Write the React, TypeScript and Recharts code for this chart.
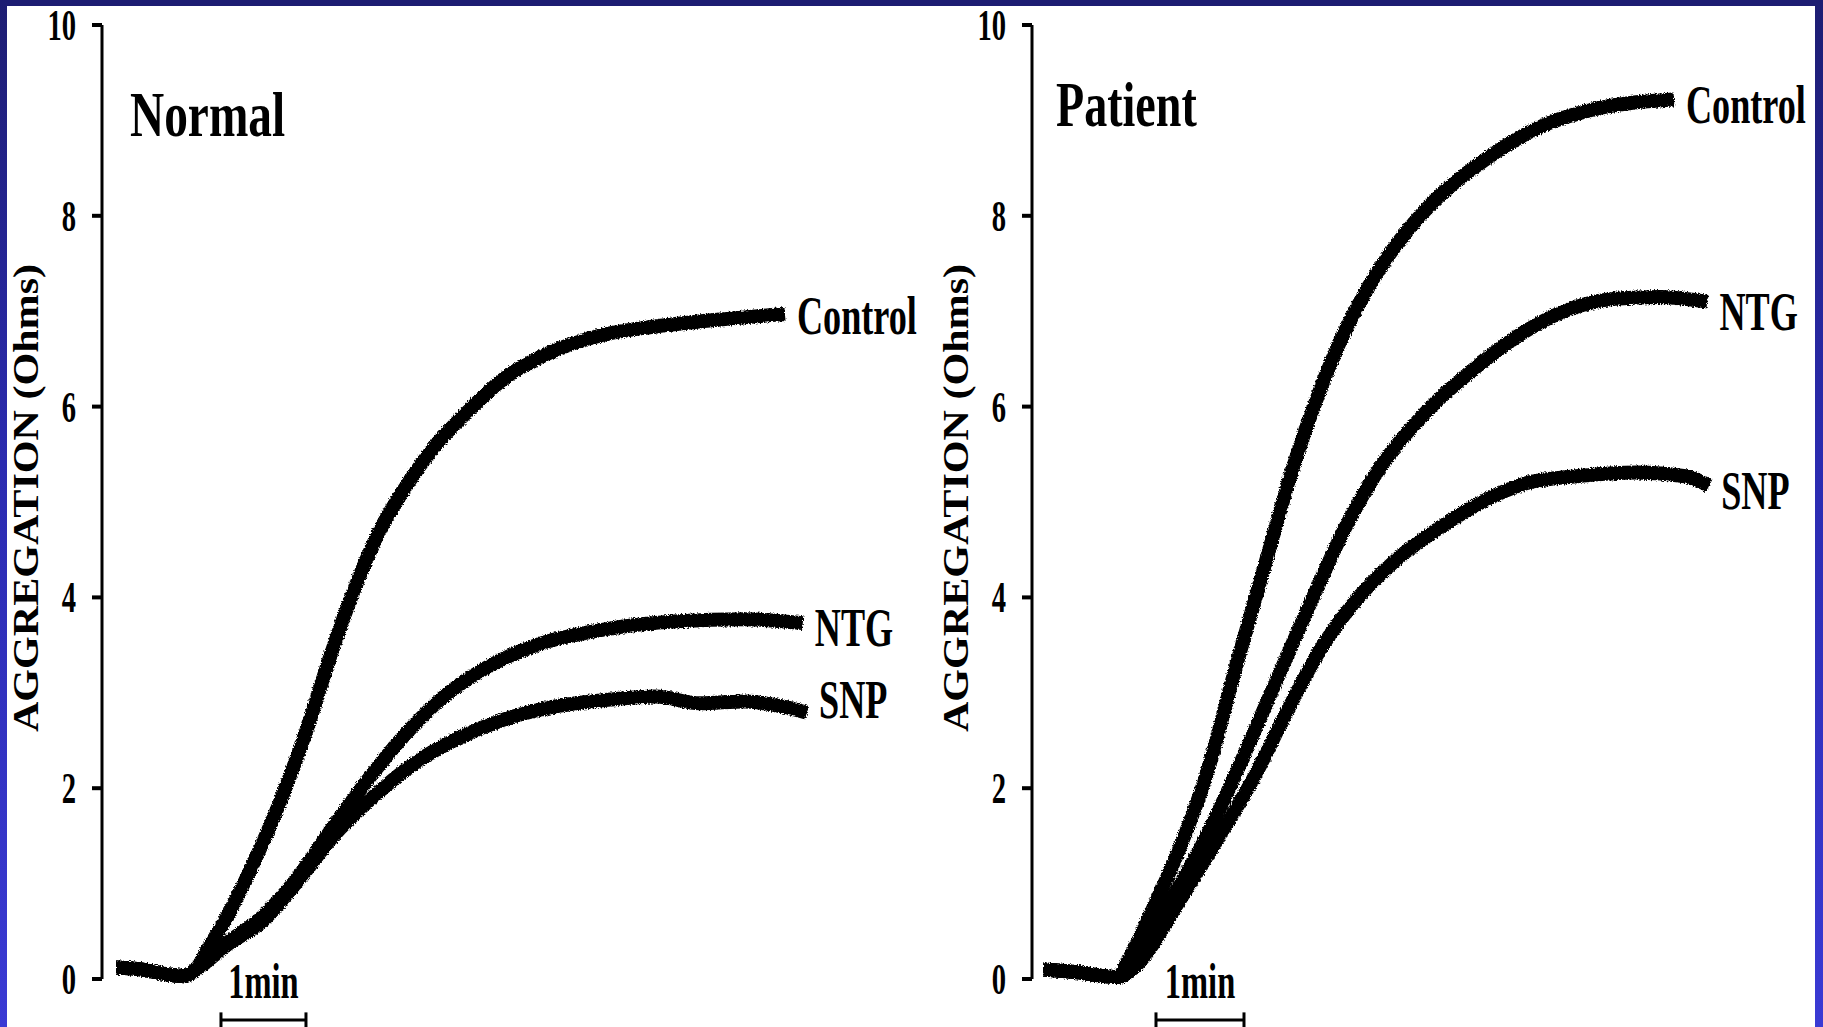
import React from "react";
import { LineChart, Line, XAxis, YAxis, ReferenceLine } from "recharts";

type Pt = [number, number];

// ---- text content ----
const Y_TICKS = [0, 2, 4, 6, 8, 10];
const Y_LABEL = "AGGREGATION (Ohms)";
const SERIES_NAMES = ["Control", "NTG", "SNP"];
const PANEL_TITLES = ["Normal", "Patient"];
const SCALE_LABEL = "1min";

// ---- data: [time (min from trace start), aggregation (Ohms)] ----
const NORMAL_CONTROL: Pt[] = [
  [0, 0.12], [0.3, 0.1], [0.6, 0.05], [0.8, 0.03], [0.94, 0.1], [1.09, 0.33],
  [1.31, 0.66], [1.62, 1.22], [1.94, 1.88], [2.25, 2.63], [2.52, 3.38], [2.78, 4.03],
  [3.09, 4.68], [3.41, 5.16], [3.72, 5.55], [4.14, 5.95], [4.56, 6.29], [5.09, 6.56],
  [5.72, 6.75], [6.35, 6.84], [7.08, 6.91], [7.87, 6.97],
];
const NORMAL_NTG: Pt[] = [
  [0, 0.12], [0.3, 0.1], [0.6, 0.05], [0.8, 0.03], [0.94, 0.1], [1.31, 0.38],
  [1.73, 0.66], [2.15, 1.08], [2.56, 1.6], [2.99, 2.12], [3.41, 2.57], [3.83, 2.94],
  [4.35, 3.26], [4.98, 3.51], [5.72, 3.66], [6.61, 3.75], [7.4, 3.77], [8.08, 3.73],
];
const NORMAL_SNP: Pt[] = [
  [0, 0.12], [0.3, 0.1], [0.6, 0.05], [0.8, 0.03], [0.94, 0.1], [1.31, 0.36],
  [1.73, 0.61], [2.15, 1.04], [2.56, 1.5], [2.99, 1.88], [3.51, 2.26], [4.04, 2.53],
  [4.56, 2.72], [5.19, 2.86], [5.82, 2.93], [6.35, 2.96], [6.87, 2.89], [7.4, 2.91],
  [7.82, 2.86], [8.13, 2.79],
];
const PATIENT_CONTROL: Pt[] = [
  [0, 0.1], [0.4, 0.07], [0.7, 0.03], [0.85, 0.02], [0.97, 0.2], [1.27, 0.78],
  [1.53, 1.32], [1.86, 2.15], [2.2, 3.3], [2.54, 4.4], [2.84, 5.36], [3.15, 6.18],
  [3.41, 6.75], [3.7, 7.26], [3.94, 7.6], [4.45, 8.16], [5.01, 8.58], [5.62, 8.92],
  [6.23, 9.11], [6.74, 9.19], [7.17, 9.22],
];
const PATIENT_NTG: Pt[] = [
  [0, 0.1], [0.4, 0.07], [0.7, 0.03], [0.85, 0.02], [1.01, 0.18], [1.4, 0.75],
  [1.8, 1.39], [2.16, 2.09], [2.54, 2.89], [3.0, 3.86], [3.45, 4.76], [3.83, 5.36],
  [4.36, 5.95], [4.97, 6.45], [5.5, 6.8], [5.98, 7.02], [6.5, 7.13], [7.0, 7.15],
  [7.55, 7.1],
];
const PATIENT_SNP: Pt[] = [
  [0, 0.1], [0.4, 0.07], [0.7, 0.03], [0.85, 0.02], [1.1, 0.18], [1.53, 0.79],
  [1.97, 1.45], [2.39, 2.1], [2.77, 2.8], [3.15, 3.45], [3.53, 3.94], [4.02, 4.4],
  [4.59, 4.78], [5.16, 5.08], [5.5, 5.2], [6.06, 5.27], [6.75, 5.31], [7.3, 5.27],
  [7.57, 5.17],
];

// 1-minute scale bar (start, end in minutes) and its level (Ohms)
const NORMAL_SCALE_BAR = [1.235, 2.235];
const PATIENT_SCALE_BAR = [1.284, 2.284];
const SCALE_BAR_LEVEL = -0.43;

const FONT = '"Liberation Serif", "Times New Roman", serif';

const toRows = (pts: Pt[]) => pts.map(([t, v]) => ({ t, v }));

function YTick(props: any) {
  const { x, y, payload } = props;
  return (
    <text
      transform={`translate(${x},${y + 15}) scale(0.65,1)`}
      textAnchor="end"
      fontFamily={FONT}
      fontWeight="bold"
      fontSize={44}
      fill="#000"
    >
      {payload.value}
    </text>
  );
}

function YLabel(props: any) {
  const vb = props.viewBox || { x: 0, y: 25, width: 102, height: 954 };
  const cx = vb.x + 26;
  const cy = vb.y + vb.height / 2 - 4;
  return (
    <text
      transform={`translate(${cx},${cy}) rotate(-90) scale(1.17,1)`}
      y={12}
      textAnchor="middle"
      fontFamily={FONT}
      fontWeight="bold"
      fontSize={36}
      fill="#000"
    >
      {Y_LABEL}
    </text>
  );
}

const endLabel = (name: string, lastIndex: number, dy: number) => (p: any) => {
  if (p.index !== lastIndex) return <g />;
  return (
    <text
      transform={`translate(${p.x + 12},${p.y + dy + 18}) scale(0.67,1)`}
      fontFamily={FONT}
      fontWeight="bold"
      fontSize={54}
      fill="#000"
    >
      {name}
    </text>
  );
};

function ScaleLabel(p: any) {
  const vb = p.viewBox || { x: 0, y: 0, width: 0, height: 0 };
  return (
    <text
      transform={`translate(${vb.x + vb.width / 2},${vb.y - 22}) scale(0.65,1)`}
      textAnchor="middle"
      fontFamily={FONT}
      fontWeight="bold"
      fontSize={50}
      fill="#000"
    >
      {SCALE_LABEL}
    </text>
  );
}

interface PanelProps {
  series: Pt[][];
  labelDy: number[];
  bar: number[];
  width: number;
  padLeft: number;
  xMax: number;
  marginRight: number;
}

function Panel({ series, labelDy, bar, width, padLeft, xMax, marginRight }: PanelProps) {
  return (
    <LineChart
      width={width}
      height={1027}
      margin={{ top: 25, right: marginRight, bottom: 48, left: 0 }}
    >
      <XAxis
        type="number"
        dataKey="t"
        domain={[0, xMax]}
        padding={{ left: padLeft, right: 0 }}
        allowDataOverflow
        hide
      />
      <YAxis
        type="number"
        domain={[0, 10]}
        ticks={Y_TICKS}
        interval={0}
        width={102}
        axisLine={{ stroke: "#000", strokeWidth: 3 }}
        tickLine={{ stroke: "#000", strokeWidth: 4 }}
        tickSize={10}
        tickMargin={16}
        tick={<YTick />}
        label={(p: any) => <YLabel {...p} />}
      />
      {series.map((pts, i) => (
        <Line
          key={SERIES_NAMES[i]}
          data={toRows(pts)}
          dataKey="v"
          type="monotone"
          stroke="#000"
          strokeWidth={14}
          strokeLinecap="butt"
          strokeLinejoin="round"
          dot={false}
          activeDot={false}
          isAnimationActive={false}
          label={endLabel(SERIES_NAMES[i], pts.length - 1, labelDy[i])}
        />
      ))}
      <ReferenceLine
        segment={[
          { x: bar[0], y: SCALE_BAR_LEVEL },
          { x: bar[1], y: SCALE_BAR_LEVEL },
        ]}
        ifOverflow="visible"
        stroke="#000"
        strokeWidth={3}
        label={(p: any) => <ScaleLabel {...p} />}
      />
      {bar.map((b) => (
        <ReferenceLine
          key={b}
          segment={[
            { x: b, y: SCALE_BAR_LEVEL + 0.08 },
            { x: b, y: SCALE_BAR_LEVEL - 0.09 },
          ]}
          ifOverflow="visible"
          stroke="#000"
          strokeWidth={3}
        />
      ))}
    </LineChart>
  );
}

export default function App() {
  return (
    <div
      style={{
        position: "fixed",
        left: 0,
        top: 0,
        width: 1823,
        height: 1027,
        background: "#ffffff",
        overflow: "hidden",
      }}
    >
      <style>{`.recharts-line-curve{filter:url(#rough);}`}</style>
      <svg width={0} height={0} style={{ position: "absolute" }}>
        <defs>
          <filter id="rough" x="-5%" y="-5%" width="110%" height="110%">
            <feTurbulence type="fractalNoise" baseFrequency="0.7" numOctaves={1} seed={4} result="noise" />
            <feDisplacementMap in="SourceGraphic" in2="noise" scale={5} xChannelSelector="R" yChannelSelector="G" />
          </filter>
        </defs>
      </svg>
      <div style={{ position: "absolute", left: 0, top: 0 }}>
        <Panel
          series={[NORMAL_CONTROL, NORMAL_NTG, NORMAL_SNP]}
          labelDy={[2, 5, -13]}
          bar={NORMAL_SCALE_BAR}
          width={930}
          padLeft={14}
          xMax={9}
          marginRight={49}
        />
      </div>
      <div style={{ position: "absolute", left: 930, top: 0 }}>
        <Panel
          series={[PATIENT_CONTROL, PATIENT_NTG, PATIENT_SNP]}
          labelDy={[6, 10, 5]}
          bar={PATIENT_SCALE_BAR}
          width={893}
          padLeft={11}
          xMax={8.5}
          marginRight={32}
        />
      </div>
      <svg
        width={1823}
        height={1027}
        style={{ position: "absolute", left: 0, top: 0, pointerEvents: "none" }}
      >
        <text
          transform="translate(130,136) scale(0.74,1)"
          fontFamily={FONT}
          fontWeight="bold"
          fontSize={64}
          fill="#000"
        >
          {PANEL_TITLES[0]}
        </text>
        <text
          transform="translate(1056,126) scale(0.72,1)"
          fontFamily={FONT}
          fontWeight="bold"
          fontSize={64}
          fill="#000"
        >
          {PANEL_TITLES[1]}
        </text>
      </svg>
      <div
        style={{
          position: "absolute",
          left: 0,
          top: 0,
          width: 1823,
          height: 6,
          background: "#1d1d72",
        }}
      />
      <div
        style={{
          position: "absolute",
          left: 0,
          top: 0,
          width: 7,
          height: 1027,
          background: "linear-gradient(#1d1d72, #2b2bb0 45%, #3a3ad4)",
        }}
      />
      <div
        style={{
          position: "absolute",
          left: 1815,
          top: 0,
          width: 8,
          height: 1027,
          background: "linear-gradient(#1d1d72, #2b2bb0 45%, #3a3ad4)",
        }}
      />
    </div>
  );
}
